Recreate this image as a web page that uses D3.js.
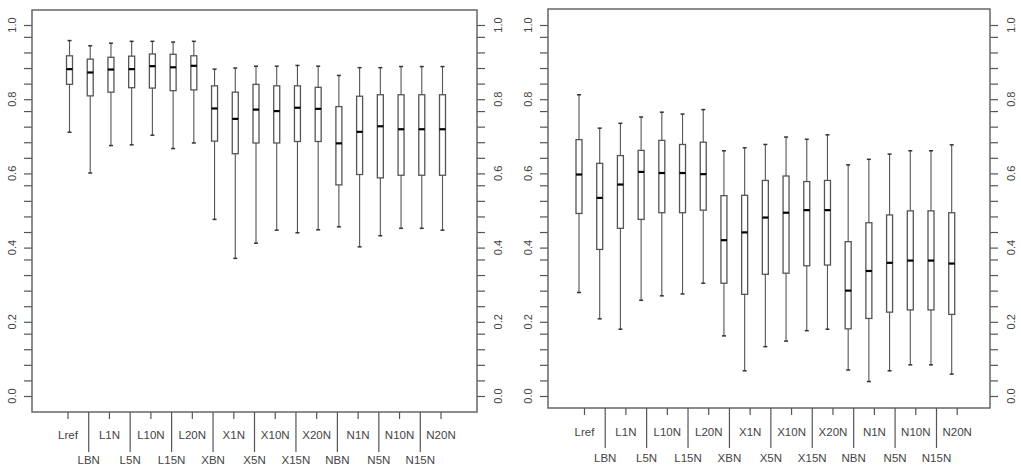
<!DOCTYPE html>
<html>
<head>
<meta charset="utf-8">
<script src="https://cdn.jsdelivr.net/npm/d3@7"></script>
<style>
  body { margin: 0; background: #fff; }
  text { font-family: "Liberation Sans", Arial, sans-serif; fill: #444; }
</style>
</head>
<body>
<div id="chart"></div>
<script>
// categories, shared by both panels
let categories = ["Lref", "LBN", "L1N", "L5N", "L10N", "L15N", "L20N",
                  "XBN", "X1N", "X5N", "X10N", "X15N", "X20N",
                  "NBN", "N1N", "N5N", "N10N", "N15N", "N20N"]

// left panel: lower whisker, Q1, median, Q3, upper whisker
let leftLo  = [0.711, 0.601, 0.675, 0.677, 0.703, 0.667, 0.682, 0.476, 0.371, 0.412, 0.447, 0.440, 0.448, 0.456, 0.402, 0.432, 0.452, 0.452, 0.447]
let leftQ1  = [0.840, 0.809, 0.819, 0.831, 0.830, 0.823, 0.825, 0.687, 0.653, 0.682, 0.682, 0.686, 0.686, 0.569, 0.597, 0.588, 0.595, 0.595, 0.595]
let leftMed = [0.881, 0.872, 0.880, 0.881, 0.889, 0.886, 0.890, 0.775, 0.747, 0.772, 0.768, 0.777, 0.774, 0.681, 0.712, 0.727, 0.719, 0.719, 0.719]
let leftQ3  = [0.917, 0.908, 0.913, 0.916, 0.922, 0.921, 0.917, 0.836, 0.819, 0.840, 0.836, 0.836, 0.832, 0.780, 0.808, 0.812, 0.812, 0.812, 0.812]
let leftHi  = [0.958, 0.944, 0.951, 0.956, 0.956, 0.954, 0.956, 0.881, 0.884, 0.889, 0.889, 0.891, 0.889, 0.864, 0.885, 0.885, 0.888, 0.888, 0.888]

// right panel
let rightLo  = [0.279, 0.208, 0.180, 0.258, 0.270, 0.275, 0.304, 0.162, 0.068, 0.133, 0.148, 0.176, 0.180, 0.070, 0.039, 0.068, 0.084, 0.084, 0.059]
let rightQ1  = [0.492, 0.395, 0.452, 0.476, 0.494, 0.494, 0.501, 0.304, 0.274, 0.328, 0.331, 0.351, 0.353, 0.181, 0.209, 0.226, 0.232, 0.232, 0.220]
let rightMed = [0.597, 0.534, 0.570, 0.604, 0.601, 0.601, 0.598, 0.420, 0.441, 0.481, 0.494, 0.501, 0.501, 0.284, 0.337, 0.359, 0.365, 0.365, 0.357]
let rightQ3  = [0.691, 0.627, 0.648, 0.662, 0.689, 0.678, 0.684, 0.540, 0.541, 0.581, 0.593, 0.578, 0.581, 0.416, 0.467, 0.488, 0.499, 0.499, 0.494]
let rightHi  = [0.812, 0.722, 0.735, 0.752, 0.765, 0.760, 0.772, 0.661, 0.669, 0.678, 0.698, 0.692, 0.704, 0.623, 0.638, 0.652, 0.661, 0.661, 0.677]

// y axis ticks
let yLabels = [0, 0.2, 0.4, 0.6, 0.8, 1.0]
let minorSteps = [0.042, 0.084, 0.126, 0.168]

let svg = d3.select("#chart").append("svg")
            .attr("width", 1021)
            .attr("height", 472)

let zip = (lo, q1, med, q3, hi) => categories.map((c, i) => ({
    cat: c, lo: lo[i], q1: q1[i], med: med[i], q3: q3[i], hi: hi[i]
}))

function panel(opt) {
    let g = svg.append("g")
    let x = d3.scalePoint().domain(categories).range([opt.x0, opt.x1])
    let y = d3.scaleLinear().domain([0, 1]).range([opt.yBase, 25])
    let data = zip(...opt.series)

    // label ticks + the small ones in between
    let ticks = yLabels.concat(yLabels.slice(0, -1).flatMap(v => minorSteps.map(s => v + s)))

    let leftAxis = d3.axisLeft(y).tickValues(ticks).tickSize(8).tickFormat("")
    let rightAxis = d3.axisRight(y).tickValues(ticks).tickSize(8).tickFormat("")
    g.append("g").attr("transform", "translate(" + opt.left + ",0)").call(leftAxis)
    g.append("g").attr("transform", "translate(" + opt.right + ",0)").call(rightAxis)
    g.selectAll(".domain").remove()
    g.selectAll(".tick line").attr("stroke", "#555").attr("stroke-width", 1.2)

    // rotated y labels on both sides
    g.selectAll("text.yl")
     .data(yLabels)
     .enter()
     .append("text")
     .attr("class", "yl")
     .attr("transform", d => "translate(" + (opt.left - 16) + "," + y(d) + ") rotate(-90)")
     .attr("text-anchor", "middle")
     .attr("font-size", 11)
     .text(d => d.toFixed(1))
    g.selectAll("text.yr")
     .data(yLabels)
     .enter()
     .append("text")
     .attr("class", "yr")
     .attr("transform", d => "translate(" + (opt.right + 25) + "," + y(d) + ") rotate(-90)")
     .attr("text-anchor", "middle")
     .attr("font-size", 11)
     .text(d => d.toFixed(1))

    // frame
    g.append("rect")
     .attr("x", opt.left).attr("y", opt.top)
     .attr("width", opt.right - opt.left).attr("height", opt.bottom - opt.top)
     .attr("fill", "none").attr("stroke", "#666").attr("stroke-width", 1.5)

    // x ticks, alternating short / long
    let xt = g.selectAll("g.xt")
              .data(categories)
              .enter()
              .append("g")
              .attr("class", "xt")
              .attr("transform", d => "translate(" + (x(d) + opt.tickShift) + "," + opt.bottom + ")")
    xt.append("line")
      .attr("y2", (d, i) => i % 2 ? opt.longTick : 7)
      .attr("stroke", "#555").attr("stroke-width", 1.2)
    xt.append("text")
      .attr("y", (d, i) => (i % 2 ? opt.row2 : opt.row1) - opt.bottom)
      .attr("text-anchor", "middle")
      .attr("font-size", 11.5)
      .text(d => d)

    // boxes
    let bw = 6, cw = 4
    let b = g.selectAll("g.box")
             .data(data)
             .enter()
             .append("g")
             .attr("class", "box")
             .attr("transform", d => "translate(" + x(d.cat) + ",0)")
    b.append("line")
     .attr("y1", d => y(d.hi)).attr("y2", d => y(d.q3))
     .attr("stroke", "#555").attr("stroke-width", 1.1)
    b.append("line")
     .attr("y1", d => y(d.q1)).attr("y2", d => y(d.lo))
     .attr("stroke", "#555").attr("stroke-width", 1.1)
    b.append("line")
     .attr("x1", -cw / 2).attr("x2", cw / 2)
     .attr("y1", d => y(d.hi)).attr("y2", d => y(d.hi))
     .attr("stroke", "#333").attr("stroke-width", 1.5)
    b.append("line")
     .attr("x1", -cw / 2).attr("x2", cw / 2)
     .attr("y1", d => y(d.lo)).attr("y2", d => y(d.lo))
     .attr("stroke", "#333").attr("stroke-width", 1.5)
    b.append("rect")
     .attr("x", -bw / 2).attr("width", bw)
     .attr("y", d => y(d.q3)).attr("height", d => y(d.q1) - y(d.q3))
     .attr("fill", "#fff").attr("stroke", "#555").attr("stroke-width", 1.3)
    b.append("line")
     .attr("x1", -bw / 2).attr("x2", bw / 2)
     .attr("y1", d => y(d.med)).attr("y2", d => y(d.med))
     .attr("stroke", "#000").attr("stroke-width", 2.2)
}

panel({
    series: [leftLo, leftQ1, leftMed, leftQ3, leftHi],
    x0: 69.5, x1: 442.5, tickShift: -1.5,
    left: 32, right: 477, top: 10, bottom: 412, yBase: 396,
    longTick: 40, row1: 439, row2: 464
})

panel({
    series: [rightLo, rightQ1, rightMed, rightQ3, rightHi],
    x0: 579, x1: 951.7, tickShift: 5.5,
    left: 548, right: 990, top: 9, bottom: 408, yBase: 396,
    longTick: 40, row1: 436, row2: 462
})
</script>
</body>
</html>
